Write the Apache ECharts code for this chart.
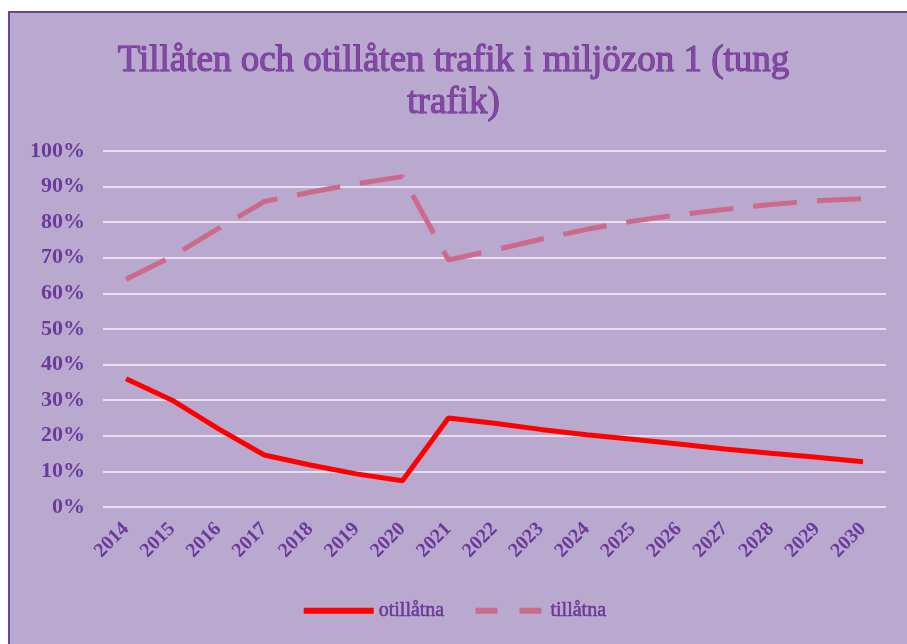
<!DOCTYPE html>
<html>
<head>
<meta charset="utf-8">
<script src="https://cdn.jsdelivr.net/npm/echarts@6/dist/echarts.min.js"></script>
<style>
  body { margin: 0; background: #ffffff; }
  #box {
    position: absolute; left: 8px; top: 11px; width: 920px; height: 660px;
    background: #b9a9cf; border-left: 2px solid #6b4398; border-top: 2px solid #6b4398;
  }
  #chart { position: absolute; left: 0; top: 0; width: 907px; height: 644px; }
</style>
</head>
<body>
<div id="box"></div>
<div id="chart"></div>
<script>
// år på x-axeln
var years = ["2014", "2015", "2016", "2017", "2018", "2019", "2020", "2021", "2022",
  "2023", "2024", "2025", "2026", "2027", "2028", "2029", "2030"];
// andel i procent
var otillatna = [36, 30, 22, 14.6, 11.8, 9.3, 7.4, 25, 23.5, 21.8, 20.3, 19, 17.7, 16.3, 15.1, 14, 12.7];
var tillatna = [64, 70.4, 78.2, 85.8, 88.4, 90.8, 92.8, 69.4, 72.2, 75.2, 78, 80.3, 82.1, 83.6, 85, 86, 86.6];

var textColor = "#6b3a9a";
var myChart = echarts.init(document.getElementById("chart"));
var option = {
  backgroundColor: "transparent",
  title: {
    text: "Tillåten och otillåten trafik i miljözon 1 (tung\ntrafik)",
    left: "center",
    top: 35,
    textStyle: {
      fontFamily: "Liberation Serif",
      fontSize: 37,
      fontWeight: "normal",
      color: "#8547a6",
      textBorderColor: "#6a2e8c",
      textBorderWidth: 1,
      lineHeight: 42,
    },
  },
  grid: { left: 103, right: 21, top: 151, bottom: 137 },
  legend: {
    bottom: 18,
    left: "center",
    itemWidth: 70,
    itemHeight: 14,
    itemGap: 28,
    itemStyle: { opacity: 0 },
    textStyle: {
      fontFamily: "Liberation Serif",
      fontSize: 20,
      color: textColor,
      textBorderColor: "#6a2e8c",
      textBorderWidth: 0.5,
    },
    data: [
      { name: "otillåtna", lineStyle: { width: 6 } },
      { name: "tillåtna", lineStyle: { width: 6, type: [22, 22] } },
    ],
  },
  xAxis: {
    type: "category",
    data: years,
    axisLine: { show: false },
    axisTick: { show: false },
    axisLabel: {
      rotate: 45,
      margin: 19,
      fontFamily: "Liberation Serif",
      fontSize: 20,
      fontWeight: "bold",
      color: textColor,
    },
  },
  yAxis: {
    type: "value",
    min: 0,
    max: 100,
    interval: 10,
    axisLabel: {
      formatter: "{value}%",
      margin: 18,
      fontFamily: "Liberation Serif",
      fontSize: 22,
      fontWeight: "bold",
      color: textColor,
    },
    splitLine: { lineStyle: { color: "#e8def0", width: 2 } },
  },
  series: [
    {
      name: "otillåtna",
      type: "line",
      symbol: "none",
      data: otillatna,
      lineStyle: { color: "#ff0000", width: 5 },
      itemStyle: { color: "#ff0000" },
    },
    {
      name: "tillåtna",
      type: "line",
      symbol: "none",
      data: tillatna,
      lineStyle: { color: "#cc6a8c", width: 5, type: [44, 20] },
      itemStyle: { color: "#cc6a8c" },
    },
  ],
};
option && myChart.setOption(option);
</script>
</body>
</html>
